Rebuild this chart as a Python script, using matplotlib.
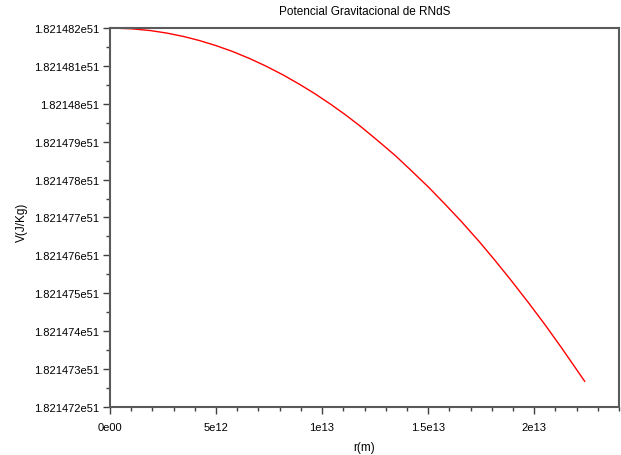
import matplotlib
matplotlib.use('Agg')
import matplotlib.pyplot as plt
from matplotlib.ticker import FixedLocator, MultipleLocator

# valores: raio (m) e potencial (J/Kg)
r = [0.0, 1.0e12, 1.9e12, 2.68e12, 3.5e12, 4.23e12, 5.0e12, 5.78e12, 6.6e12,
     7.37e12, 8.15e12, 8.92e12, 9.65e12, 10.40e12, 11.10e12, 11.80e12,
     12.60e12, 13.46e12, 14.20e12, 15.02e12, 15.80e12, 16.59e12, 17.40e12,
     18.15e12, 18.90e12, 19.72e12, 20.50e12, 21.28e12, 21.80e12, 22.38e12]
V = [1.821482000e51, 1.821481980e51, 1.821481933e51, 1.821481866e51,
     1.821481772e51, 1.821481667e51, 1.821481535e51, 1.821481380e51,
     1.821481190e51, 1.821480990e51, 1.821480765e51, 1.821480520e51,
     1.821480270e51, 1.821479990e51, 1.821479710e51, 1.821479410e51,
     1.821479040e51, 1.821478630e51, 1.821478240e51, 1.821477800e51,
     1.821477350e51, 1.821476880e51, 1.821476370e51, 1.821475870e51,
     1.821475350e51, 1.821474760e51, 1.821474180e51, 1.821473570e51,
     1.821473150e51, 1.821472680e51]

xticks = [0, 5e12, 1e13, 1.5e13, 2e13]
xlabels = ['0e00', '5e12', '1e13', '1.5e13', '2e13']
yticks = [1.821472e51 + i * 1e45 for i in range(11)]
ylabels = ['1.821472e51', '1.821473e51', '1.821474e51', '1.821475e51',
           '1.821476e51', '1.821477e51', '1.821478e51', '1.821479e51',
           '1.82148e51', '1.821481e51', '1.821482e51']

plt.rcParams['font.family'] = ['Liberation Sans', 'DejaVu Sans']

fig = plt.figure(figsize=(6.21, 4.56), dpi=100)
ax = fig.add_axes([110 / 621, 48 / 456, 509 / 621, 379 / 456])

ax.plot(r, V, color='red', linewidth=1.0)

ax.set_xlim(0, 2.4e13)
ax.set_ylim(1.821472e51, 1.821482e51)
ax.xaxis.set_major_locator(FixedLocator(xticks))
ax.set_xticklabels(xlabels)
ax.xaxis.set_minor_locator(MultipleLocator(1e12))
ax.yaxis.set_major_locator(FixedLocator(yticks))
ax.set_yticklabels(ylabels)
ax.yaxis.set_minor_locator(FixedLocator([y + 0.5e45 for y in yticks[:-1]]))

for s in ax.spines.values():
    s.set_color('#5a5a5a')
    s.set_linewidth(1.5)

ax.tick_params(which='major', direction='out', length=5, width=1, color='#404040',
               labelsize=8)
ax.tick_params(which='minor', direction='out', length=3, width=1, color='#404040')
ax.tick_params(axis='y', pad=3)
ax.tick_params(axis='x', pad=6)

ax.set_title('Potencial Gravitacional de RNdS', fontsize=8.5, pad=10)
ax.set_xlabel('r(m)', fontsize=8.5)
ax.set_ylabel('V(J/Kg)', fontsize=8.5)
ax.xaxis.set_label_coords(0.5, -0.09)
ax.yaxis.set_label_coords(-0.161, 0.49)

fig.savefig('out.png', dpi=100)
